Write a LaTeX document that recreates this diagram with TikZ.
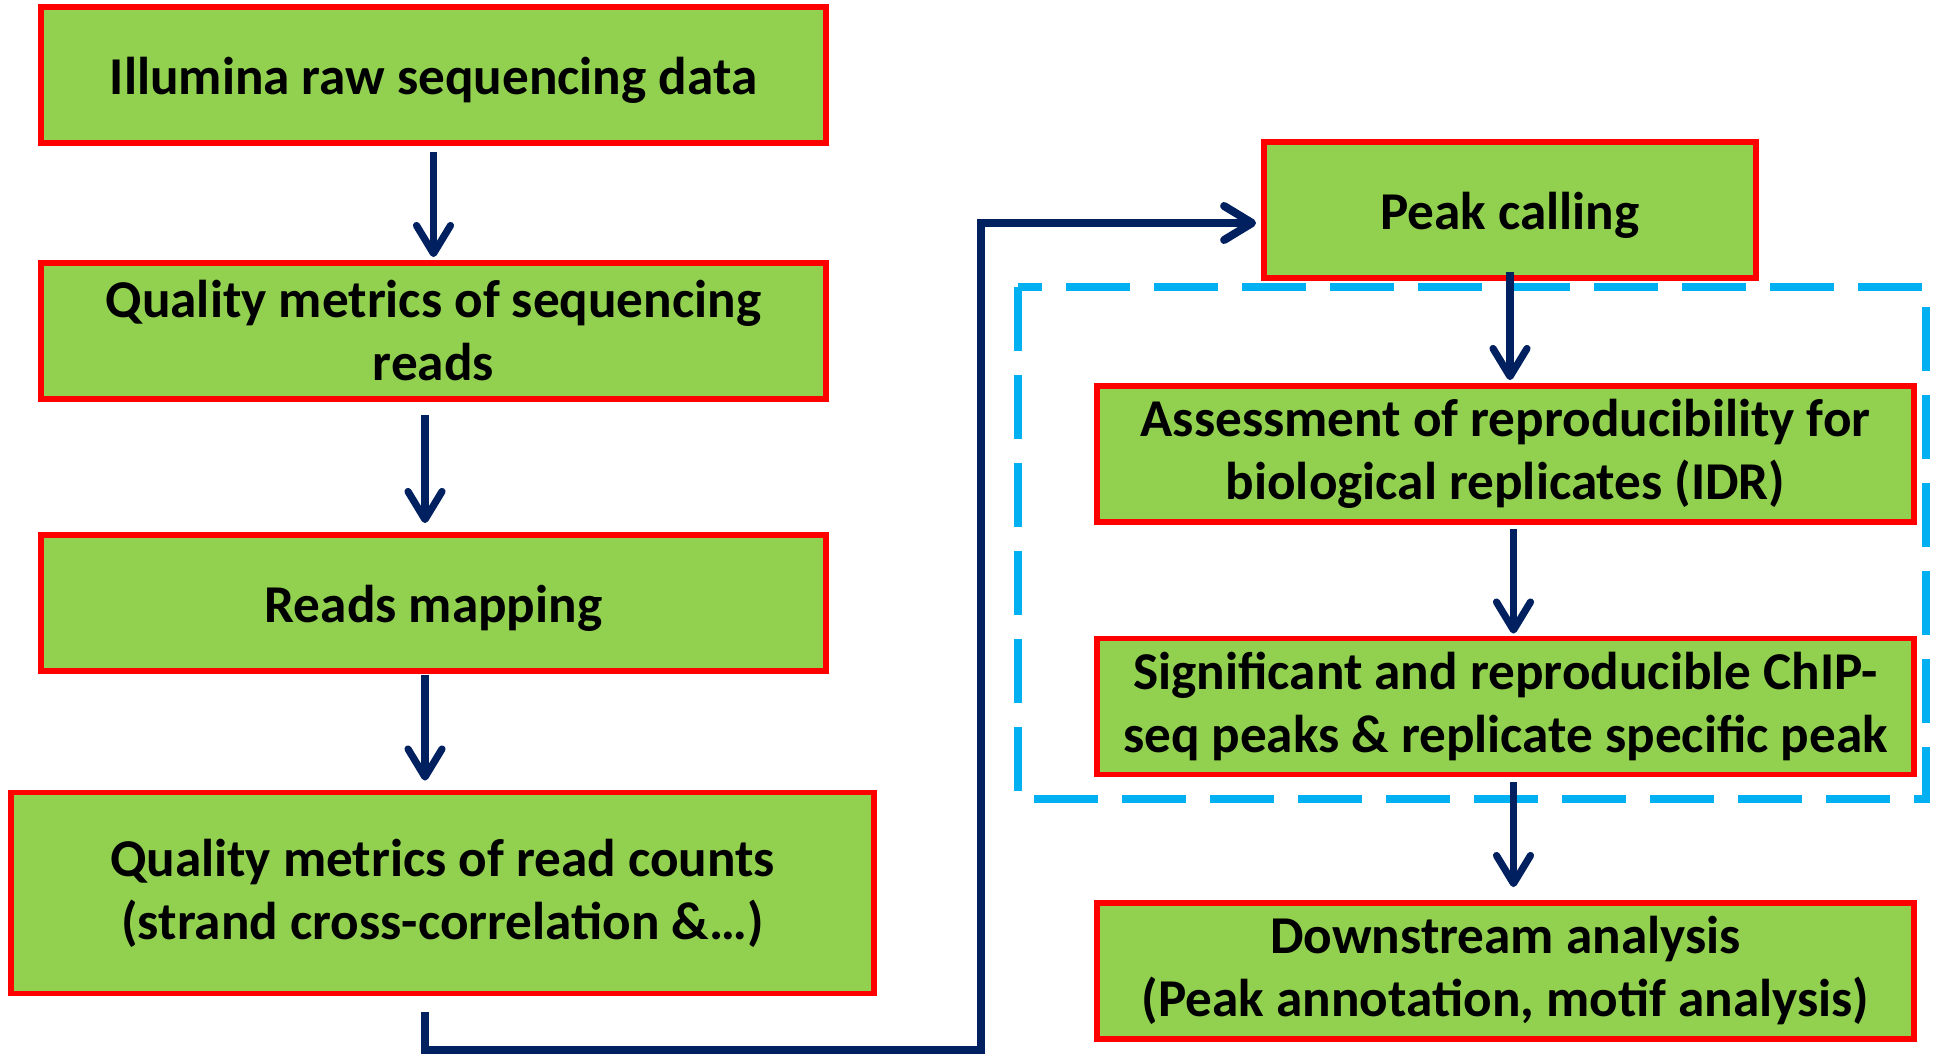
\documentclass[tikz,border=0pt]{standalone}
\usepackage{fontspec}
\setmainfont{Carlito}
\usetikzlibrary{arrows.meta}
\definecolor{boxgreen}{RGB}{146,208,80}
\definecolor{boxred}{RGB}{255,0,0}
\definecolor{flownavy}{RGB}{0,32,96}
\definecolor{groupblue}{RGB}{0,176,240}

\begin{document}
\begin{tikzpicture}[x=0.5pt,y=0.5pt,yscale=-1,xscale=1,
  stepbox/.style={draw=boxred,fill=boxgreen,line width=2.9pt,inner sep=0pt,align=center,minimum height=68pt,font=\fontsize{26.6}{31.5}\selectfont\bfseries},
  oneline/.style={text height=25pt,text depth=5.3pt},
  flow/.style={draw=flownavy,line width=3.6pt,-{Straight Barb[length=14pt,width=17pt,round]}},
  groupbox/.style={draw=groupblue,line width=4pt,dash pattern=on 32pt off 12pt}]
\useasboundingbox (0,0) rectangle (1939,1055);

%Shape: Dashed group [id:replicates]
\draw[groupbox] (1018,287) rectangle (1926,799);

% Left column
\node[stepbox,oneline,minimum width=392.5pt] (raw) at (433.5,75) {Illumina raw sequencing data};
\node[stepbox,minimum width=392.5pt] (qcreads) at (433.5,331) {Quality metrics of sequencing\\reads};
\node[stepbox,oneline,minimum width=392.5pt] (mapping) at (433.5,603) {Reads mapping};
\node[stepbox,minimum width=431.5pt,minimum height=100.5pt] (qccounts) at (442.5,893) {Quality metrics of read counts\\(strand cross-correlation \&…)};

% Right column
\node[stepbox,oneline,minimum width=246pt] (peaks) at (1510,210) {Peak calling};
\node[stepbox,minimum width=408.5pt] (idr) at (1505.5,454) {Assessment of reproducibility for\\biological replicates (IDR)};
\node[stepbox,minimum width=408.5pt] (sigpeaks) at (1505.5,706.5) {Significant and reproducible ChIP-\\seq peaks \& replicate specific peak};
\node[stepbox,minimum width=408.5pt] (downstream) at (1505.5,971) {Downstream analysis\\(Peak annotation, motif analysis)};

%Straight Lines
\draw[flow] ([yshift=3pt]raw.south) -- ([yshift=-1.5pt]qcreads.north);
\draw[flow] ([xshift=-4.25pt,yshift=6.5pt]qcreads.south) -- ([xshift=-4.25pt,yshift=-4.5pt]mapping.north);
\draw[flow] ([xshift=-4.25pt,yshift=0.5pt]mapping.south) -- ([xshift=-8.75pt,yshift=-4.5pt]qccounts.north);
\draw[flow] ([yshift=-4.5pt]peaks.south) -- ([xshift=2.25pt,yshift=-1.5pt]idr.north);
\draw[flow] ([xshift=4pt,yshift=2pt]idr.south) -- ([xshift=4pt,yshift=-1pt]sigpeaks.north);
\draw[flow] ([xshift=4pt,yshift=2.5pt]sigpeaks.south) -- ([xshift=4pt,yshift=-6.5pt]downstream.north);

%Connector to peak calling
\coordinate (loopcorner) at (981,1050);
\draw[flow,line width=4pt] ([xshift=-8.75pt,yshift=8pt]qccounts.south) |- (loopcorner) |- ([xshift=-2.5pt,yshift=6.5pt]peaks.west);
\end{tikzpicture}
\end{document}
